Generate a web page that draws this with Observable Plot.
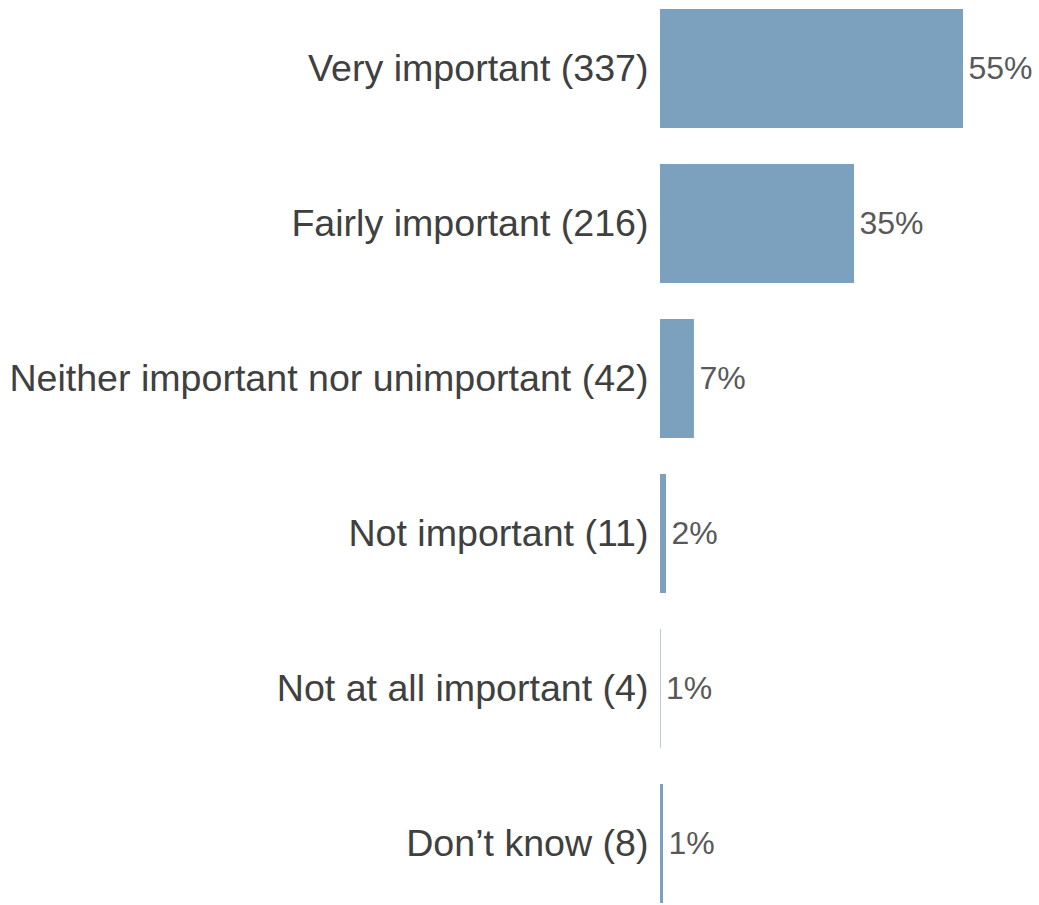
<!DOCTYPE html>
<html>
<head>
<meta charset="utf-8">
<script src="https://cdn.jsdelivr.net/npm/d3@7"></script>
<script src="https://cdn.jsdelivr.net/npm/@observablehq/plot@0.6"></script>
<style>
  html, body { margin: 0; padding: 0; background: #fff; overflow: hidden; }
  #chart svg { display: block; }
</style>
</head>
<body>
<div id="chart"></div>
<script>
const categories = [
  "Very important (337)",
  "Fairly important (216)",
  "Neither important nor unimportant (42)",
  "Not important (11)",
  "Not at all important (4)",
  "Don’t know (8)"
];
const values = [54.5, 34.9, 6.1, 1.08, 0.1, 0.54];
const valueLabels = ["55%", "35%", "7%", "2%", "1%", "1%"];

const data = categories.map((c, i) => ({category: c, value: values[i], label: valueLabels[i]}));

const chart = Plot.plot({
  width: 1039,
  height: 905,
  marginLeft: 660,
  marginRight: 76,
  marginTop: 0,
  marginBottom: 0,
  style: {fontFamily: "'Liberation Sans', Arial, sans-serif", color: "#404040", background: "#fff"},
  x: {domain: [0, 54.5], axis: null},
  y: {domain: categories, range: [-29, 941.5], padding: 0.23, label: null},
  marks: [
    Plot.barX(data, {y: "category", x: "value", fill: "#7BA1BE"}),
    Plot.text(data, {y: "category", x: "value", text: "label", textAnchor: "start", dx: 5, fontSize: 32, fill: "#595959"}),
    Plot.axisY({tickSize: 0, tickPadding: 12, fontSize: 37.6, fill: "#404040", label: null})
  ]
});
document.getElementById("chart").append(chart);
</script>
</body>
</html>
